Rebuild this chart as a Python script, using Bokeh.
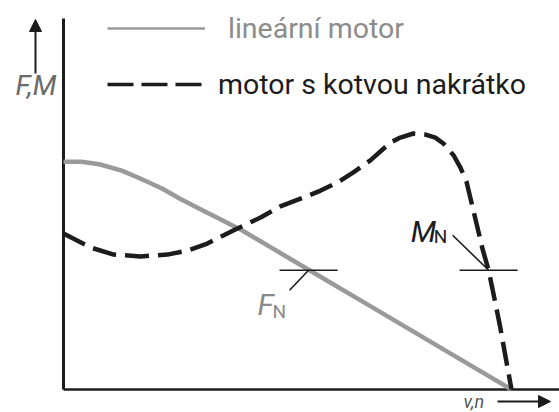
from bokeh.plotting import figure
from bokeh.models import Range1d, Legend, LegendItem, Arrow, NormalHead
from bokeh.core.properties import value
from bokeh.embed import file_html
from bokeh.resources import INLINE

nan = float("nan")

# ---- data (speed v,n in % of synchronous speed; force / torque in % of peak) ----
v_lin = [0, 4, 8, 13, 17, 22, 26, 31, 35, 40, 55, 70, 85, 100]
F_lin = [89, 89, 88, 85.5, 82.5, 78.5, 74.5, 70, 66.5, 62, 46.5, 31, 15.5, 0]

v_asyn = [0, 6, 11.2, 17.2, 23.2, 27.7, 32.1, 37.9, 44, 48.4, 53.6, 57.4, 61.2, 64.7,
          68.5, 73, 75.2, 78.1, 80.8, 83, 84.8, 87.1, 88.6, 90, 90.8, 92.4, 93.5, 94.9,
          96.2, 97.5, 98.7, 100]
M_asyn = [60.9, 55.5, 52.7, 52, 52.7, 54.3, 57, 62.1, 67.2, 71.5, 75, 77.7, 80.9, 84.8,
          89.5, 96.5, 98.4, 100, 99.6, 98.4, 96.1, 91.4, 86.7, 80.9, 75, 63.3, 55.1, 46.5,
          35.5, 24.2, 12.5, 0]

nom_v = [54.7, 94.9]          # nominal operating points F_N, M_N
nom_y = [46.6, 46.6]
nom_main = ["F", "M"]
nom_sub = ["N", "N"]
legend_labels = ["lineární motor", "motor s kotvou nakrátko"]
y_axis_label = "F,M"
x_axis_label = "v,n"

# ---- layout constants ----
W, H = 559, 412
PXX, PXY = 4.48, 2.56           # pixels per data unit
X0PX, Y0PX = 63, 389            # origin in figure pixels (from top-left)
FONT = "Roboto"
GRAY, LGRAY, BLACK = "#9a9a9a", "#8c8c8c", "#1c1c1c"


def dx(px):
    return px / PXX


def dy(px):
    return px / PXY


p = figure(width=W, height=H, output_backend="svg", toolbar_location=None,
           x_range=Range1d(-X0PX / PXX, (W - X0PX) / PXX),
           y_range=Range1d(-(H - Y0PX) / PXY, Y0PX / PXY),
           min_border=0, outline_line_color=None, x_axis_location=None,
           y_axis_location=None)
p.grid.visible = False
p.background_fill_color = "white"

xmax = (W - X0PX) / PXX
ytop = dy(371)
# axes
p.segment(x0=[0, 0], y0=[0, 0], x1=[0, xmax], y1=[ytop, 0], line_color=BLACK,
          line_width=[3, 2.5])

# curves
r_lin = p.line(v_lin, F_lin, line_color=GRAY, line_width=4.5)
r_asy = p.line(v_asyn, M_asyn, line_color=BLACK, line_width=4.5, line_dash="24 9")

# legend-only renderers (thinner strokes as in the key)
k_lin = p.line([nan, nan], [nan, nan], line_color=GRAY, line_width=2.5)
k_asy = p.line([nan, nan], [nan, nan], line_color=BLACK, line_width=3.5, line_dash="26 8")

common = dict(padding=0, margin=0, spacing=0, border_line_color=None,
              background_fill_alpha=0, glyph_width=98, glyph_height=40,
              label_height=40, label_text_font=FONT, label_text_font_size="28.5px")
lg1 = Legend(items=[LegendItem(label=legend_labels[0], renderers=[k_lin])],
             location=(107, 364), label_standoff=23, label_text_color=LGRAY, **common)
lg2 = Legend(items=[LegendItem(label=legend_labels[1], renderers=[k_asy])],
             location=(107, 308), label_standoff=13, label_text_color=BLACK, **common)
p.add_layout(lg1, "center")
p.add_layout(lg2, "center")

# nominal points: horizontal ticks and leaders
p.scatter(nom_v, nom_y, marker="dash", size=58, line_color=BLACK, line_width=1.6)
lead_dx = [dx(-19), dx(-36)]
lead_dy = [dy(-20), dy(35)]
p.segment(x0=nom_v, y0=nom_y,
          x1=[v + a for v, a in zip(nom_v, lead_dx)],
          y1=[y + b for y, b in zip(nom_y, lead_dy)],
          line_color=BLACK, line_width=1.6)

lab_dx = [dx(-51), dx(-78)]
lab_dy = [dy(-34), dy(39)]
sub_dx = [dx(-36), dx(-55)]
sub_dy = [dy(-41), dy(34)]
p.text(x=[v + a for v, a in zip(nom_v, lab_dx)], y=[y + b for y, b in zip(nom_y, lab_dy)],
       text=nom_main, text_font=value(FONT), text_font_style="italic",
       text_font_size="30px", text_color=["#8a8a8a", BLACK], text_baseline="alphabetic")
p.text(x=[v + a for v, a in zip(nom_v, sub_dx)], y=[y + b for y, b in zip(nom_y, sub_dy)],
       text=nom_sub, text_font=value(FONT), text_font_size="19px",
       text_color=["#8a8a8a", BLACK], text_baseline="alphabetic")

# y axis label and arrow
p.text(x=[dx(-48)], y=[dy(304)], text=[y_axis_label],
       text_font=value(FONT), text_font_style="italic", text_font_size="28px",
       text_color="#6a6a6a", text_baseline="alphabetic")
p.add_layout(Arrow(end=NormalHead(size=12, fill_color=BLACK, line_color=BLACK),
                   x_start=dx(-28), y_start=dy(316), x_end=dx(-28), y_end=dy(370),
                   line_color=BLACK, line_width=2))

# x axis label and arrow
p.text(x=[dx(400)], y=[dy(-12)], text=[x_axis_label], text_font=value(FONT),
       text_font_style="italic", text_font_size="18px", text_color="#555555",
       text_baseline="alphabetic")
p.add_layout(Arrow(end=NormalHead(size=12, fill_color=BLACK, line_color=BLACK),
                   x_start=dx(434), y_start=dy(-12), x_end=dx(487), y_end=dy(-12),
                   line_color=BLACK, line_width=2))

open("out.html", "w").write(file_html(p, INLINE))
